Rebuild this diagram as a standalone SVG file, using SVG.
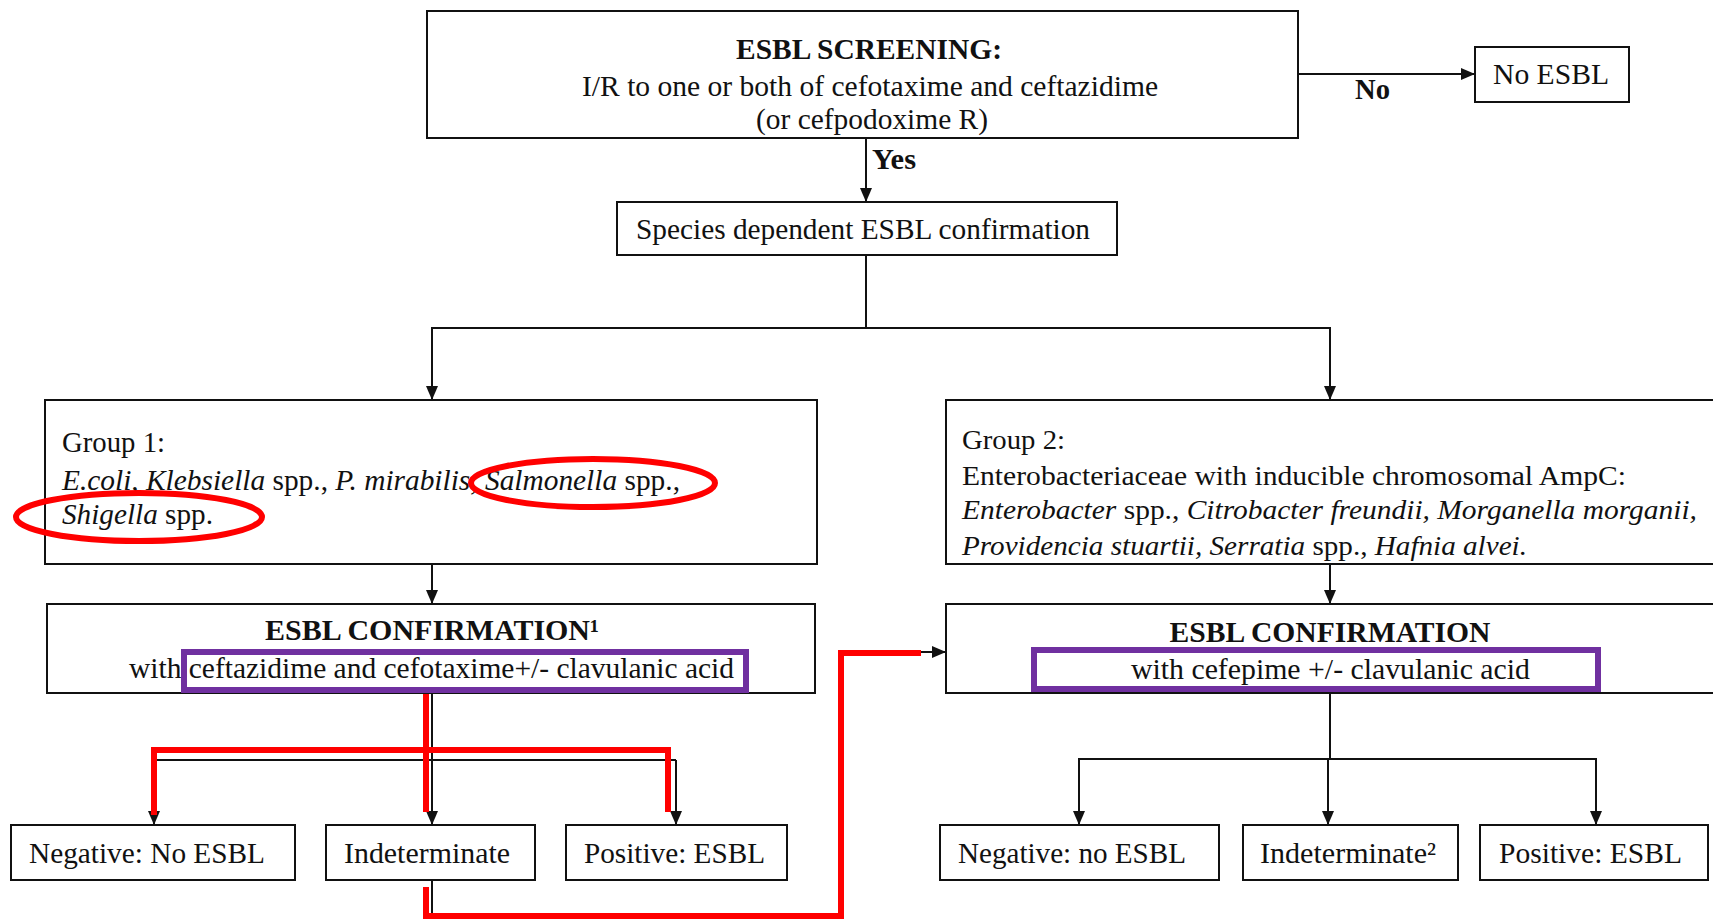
<svg xmlns="http://www.w3.org/2000/svg" width="1713" height="920" viewBox="0 0 1713 920">
<style>
.box{fill:#fff;stroke:#111;stroke-width:2}
.t{font-family:"Liberation Serif","Times New Roman",serif;font-size:30px;fill:#111}
.s{font-size:28px}
.b{font-weight:bold}
.i{font-style:italic}
.c{text-anchor:middle}
.ln{stroke:#111;stroke-width:2;fill:none}
.red{stroke:#ff0000;stroke-width:6;fill:none}
.pur{stroke:#7030a0;stroke-width:6;fill:none}
</style>
<defs>
<marker id="ah" markerUnits="userSpaceOnUse" markerWidth="14" markerHeight="12" refX="14" refY="6" orient="auto">
<path d="M0,0 L14,6 L0,12 z" fill="#111"/>
</marker>
</defs>
<rect width="1713" height="920" fill="#fff"/>

<g id="connectors">
<path class="ln" d="M1298,74 H1475" marker-end="url(#ah)"/>
<text class="t b" x="1355" y="99" textLength="35" lengthAdjust="spacingAndGlyphs">No</text>
<path class="ln" d="M866,138 V202" marker-end="url(#ah)"/>
<text class="t b" x="872" y="169" textLength="44" lengthAdjust="spacingAndGlyphs">Yes</text>
<path class="ln" d="M866,255 V328"/>
<path class="ln" d="M432,400 V328 H1330 V400"/>
<path class="ln" d="M432,328 V400" marker-end="url(#ah)"/>
<path class="ln" d="M1330,328 V400" marker-end="url(#ah)"/>
<path class="ln" d="M432,564 V604" marker-end="url(#ah)"/>
<path class="ln" d="M1330,564 V604" marker-end="url(#ah)"/>
<path class="ln" d="M432,693 V825" marker-end="url(#ah)"/>
<path class="ln" d="M154,760 H676"/>
<path class="ln" d="M154,760 V825" marker-end="url(#ah)"/>
<path class="ln" d="M676,760 V825" marker-end="url(#ah)"/>
<path class="ln" d="M1330,693 V759 H1079 V825" marker-end="url(#ah)"/>
<path class="ln" d="M1330,759 H1596 V825" marker-end="url(#ah)"/>
<path class="ln" d="M1328,759 V825" marker-end="url(#ah)"/>
<path class="ln" d="M432,880 V916"/>
<path class="ln" d="M839,662 V652 H946" marker-end="url(#ah)"/>
<path class="red" d="M154,815 V750 H668 V812"/>
<path class="red" d="M426,693 V812"/>
<path class="red" d="M426,887 V916 H841 V653 H921"/>
</g>

<g id="screening">
<rect class="box" x="427" y="11" width="871" height="127"/>
<text class="t b c" x="869" y="59" textLength="266" lengthAdjust="spacingAndGlyphs">ESBL SCREENING:</text>
<text class="t c" x="870" y="96" textLength="576" lengthAdjust="spacingAndGlyphs">I/R to one or both of cefotaxime and ceftazidime</text>
<text class="t c" x="872" y="129" textLength="232" lengthAdjust="spacingAndGlyphs">(or cefpodoxime R)</text>
</g>

<g id="noesbl">
<rect class="box" x="1475" y="47" width="154" height="55"/>
<text class="t c" x="1551" y="84" textLength="116" lengthAdjust="spacingAndGlyphs">No ESBL</text>
</g>

<g id="species">
<rect class="box" x="617" y="202" width="500" height="53"/>
<text class="t c" x="863" y="239" textLength="454" lengthAdjust="spacingAndGlyphs">Species dependent ESBL confirmation</text>
</g>

<g id="group1">
<rect class="box" x="45" y="400" width="772" height="164"/>
<text class="t" x="62" y="452" textLength="103" lengthAdjust="spacingAndGlyphs">Group 1:</text>
<text class="t" x="62" y="490" textLength="618" lengthAdjust="spacingAndGlyphs"><tspan class="i">E.coli, Klebsiella</tspan> spp., <tspan class="i">P. mirabilis, Salmonella</tspan> spp.,</text>
<text class="t" x="62" y="524" textLength="151" lengthAdjust="spacingAndGlyphs"><tspan class="i">Shigella</tspan> spp.</text>
<ellipse class="red" cx="593" cy="483" rx="122" ry="24"/>
<ellipse class="red" cx="139" cy="517" rx="123" ry="24"/>
</g>

<g id="group2">
<rect class="box" x="946" y="400" width="780" height="164"/>
<text class="t s" x="962" y="449" textLength="103" lengthAdjust="spacingAndGlyphs">Group 2:</text>
<text class="t s" x="962" y="485" textLength="664" lengthAdjust="spacingAndGlyphs">Enterobacteriaceae with inducible chromosomal AmpC:</text>
<text class="t s" x="962" y="519" textLength="735" lengthAdjust="spacingAndGlyphs"><tspan class="i">Enterobacter</tspan> spp., <tspan class="i">Citrobacter freundii, Morganella morganii,</tspan></text>
<text class="t s" x="962" y="555" textLength="565" lengthAdjust="spacingAndGlyphs"><tspan class="i">Providencia stuartii, Serratia</tspan> spp., <tspan class="i">Hafnia alvei.</tspan></text>
</g>

<g id="confirm1">
<rect class="box" x="47" y="604" width="768" height="89"/>
<text class="t b c" x="432" y="640" textLength="334" lengthAdjust="spacingAndGlyphs">ESBL CONFIRMATION¹</text>
<text class="t" x="129" y="678" textLength="605" lengthAdjust="spacingAndGlyphs">with ceftazidime and cefotaxime+/- clavulanic  acid</text>
<rect class="pur" x="184" y="652" width="562" height="38"/>
</g>

<g id="confirm2">
<rect class="box" x="946" y="604" width="780" height="89"/>
<text class="t b c" x="1330" y="642" textLength="321" lengthAdjust="spacingAndGlyphs">ESBL CONFIRMATION</text>
<text class="t" x="1131" y="679" textLength="399" lengthAdjust="spacingAndGlyphs">with cefepime  +/- clavulanic  acid</text>
<rect class="pur" x="1034" y="650" width="564" height="39"/>
</g>

<g id="neg1">
<rect class="box" x="11" y="825" width="284" height="55"/>
<text class="t" x="29" y="863" textLength="236" lengthAdjust="spacingAndGlyphs">Negative: No ESBL</text>
</g>
<g id="ind1">
<rect class="box" x="326" y="825" width="209" height="55"/>
<text class="t" x="344" y="863" textLength="166" lengthAdjust="spacingAndGlyphs">Indeterminate</text>
</g>
<g id="pos1">
<rect class="box" x="566" y="825" width="221" height="55"/>
<text class="t" x="584" y="863" textLength="181" lengthAdjust="spacingAndGlyphs">Positive: ESBL</text>
</g>
<g id="neg2">
<rect class="box" x="940" y="825" width="279" height="55"/>
<text class="t" x="958" y="863" textLength="228" lengthAdjust="spacingAndGlyphs">Negative: no ESBL</text>
</g>
<g id="ind2">
<rect class="box" x="1243" y="825" width="215" height="55"/>
<text class="t" x="1260" y="863" textLength="176" lengthAdjust="spacingAndGlyphs">Indeterminate²</text>
</g>
<g id="pos2">
<rect class="box" x="1480" y="825" width="228" height="55"/>
<text class="t" x="1499" y="863" textLength="183" lengthAdjust="spacingAndGlyphs">Positive: ESBL</text>
</g>
</svg>
